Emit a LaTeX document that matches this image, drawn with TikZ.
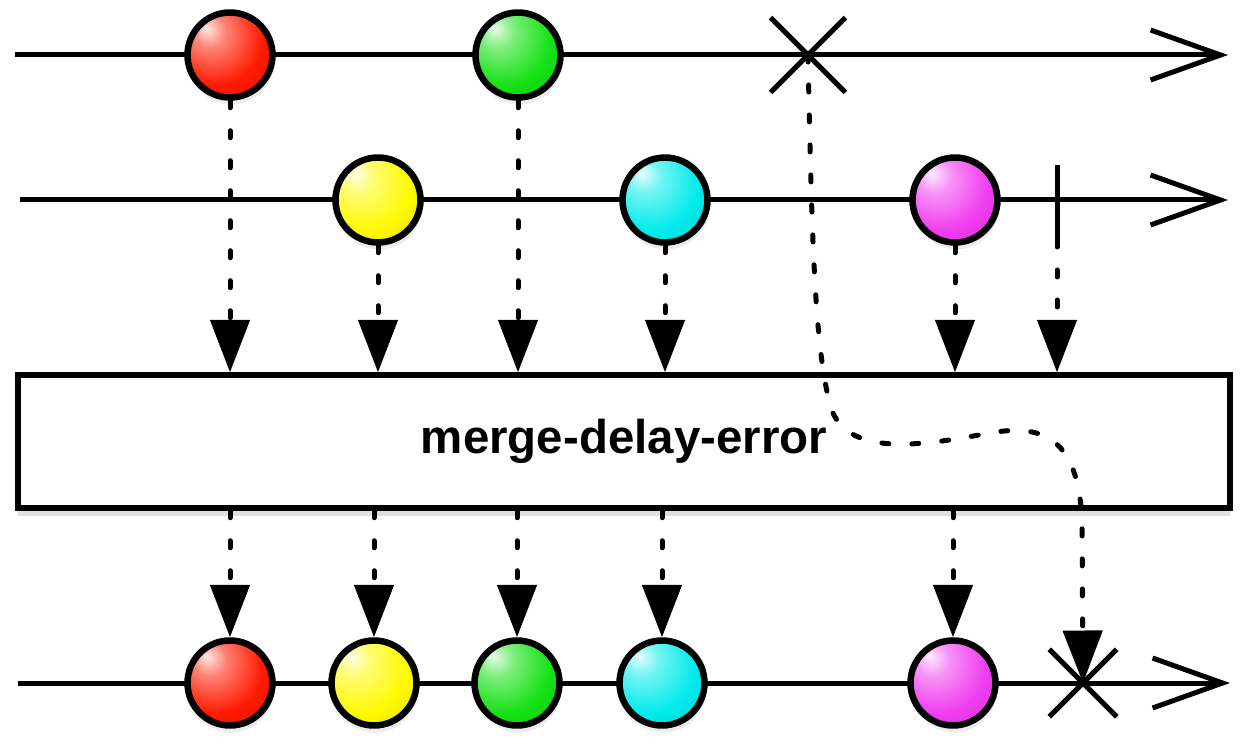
\documentclass[tikz,border=0pt]{standalone}
\usepackage{fontspec}
\setmainfont{Liberation Sans}
\usetikzlibrary{arrows.meta,shapes.misc,shadows}

\definecolor{mred}{RGB}{255,25,0}
\definecolor{mgreen}{RGB}{20,225,20}
\definecolor{myellow}{RGB}{255,250,0}
\definecolor{mcyan}{RGB}{0,235,235}
\definecolor{mmagenta}{RGB}{240,60,240}
\colorlet{marblec}{mred}
\pgfdeclareradialshading[marblec]{marble}{\pgfpoint{-14bp}{16bp}}{%
  color(0bp)=(marblec!10!white); color(10bp)=(marblec!55!white);
  color(28bp)=(marblec); color(52bp)=(marblec!82!black);
  color(72bp)=(marblec!55!black)}

\tikzset{
  timeline/.style={line width=0.1cm, -{Straight Barb[length=1.4cm,width=1cm]}},
  marble/.style={circle, draw, line width=0.13cm, minimum size=1.7cm, inner sep=0pt,
                 /utils/exec={\colorlet{marblec}{#1}}, shade, shading=marble,
                 drop shadow={opacity=0.15, shadow xshift=0.03cm, shadow yshift=-0.14cm}},
  errmark/.style={cross out, draw, line width=0.1cm, inner sep=0pt, minimum size=#1},
  flow/.style={line width=0.1cm, line cap=round, dash pattern=on 0.14cm off 0.46cm,
               -{Triangle[length=1.05cm,width=0.78cm]}},
  opbox/.style={draw, fill=white, line width=0.11cm, inner sep=0pt,
                minimum width=24.24cm, minimum height=2.66cm,
                font=\fontsize{27}{32}\selectfont\bfseries,
                drop shadow={opacity=0.25, shadow xshift=0cm, shadow yshift=-0.16cm}}
}

\begin{document}
\begin{tikzpicture}[x=0.02cm, y=-0.02cm]
  \useasboundingbox (0,0) rectangle (1248,753);

  % source 1
  \draw[timeline] (15,55) -- (1228,55);
  \node[marble=mred] (r1) at (230,55) {};
  \node[marble=mgreen] (g1) at (518,55) {};
  \node[errmark=1.4cm] (e1) at (808,55) {};

  % source 2
  \draw[timeline] (20,200) -- (1228,200);
  \node[marble=myellow] (y2) at (378,200) {};
  \node[marble=mcyan] (c2) at (665,200) {};
  \node[marble=mmagenta] (m2) at (955,200) {};
  \coordinate (d2top) at (1057,165);
  \coordinate (d2) at (1057,240);
  \draw[line width=0.1cm] (d2top) -- (d2);

  % operator
  \node[opbox] (op) at (624,441.5) {merge-delay-error};

  % result
  \draw[timeline] (18,683) -- (1230,683);
  \node[marble=mred] (r3) at (230,683) {};
  \node[marble=myellow] (y3) at (374,683) {};
  \node[marble=mgreen] (g3) at (517,683) {};
  \node[marble=mcyan] (c3) at (662,683) {};
  \node[marble=mmagenta] (m3) at (953,683) {};
  \node[errmark=1.25cm] (e3) at (1083,683) {};

  \draw[flow] (r1.south) -- (r1 |- op.north);
  \draw[flow] (y2.south) -- (y2 |- op.north);
  \draw[flow] (g1.south) -- (g1 |- op.north);
  \draw[flow] (c2.south) -- (c2 |- op.north);
  \draw[flow] (m2.south) -- (m2 |- op.north);
  \draw[flow] (d2) -- (d2 |- op.north);

  \draw[flow] (r3 |- op.south) -- (r3.north);
  \draw[flow] (y3 |- op.south) -- (y3.north);
  \draw[flow] (g3 |- op.south) -- (g3.north);
  \draw[flow] (c3 |- op.south) -- (c3.north);
  \draw[flow] (m3 |- op.south) -- (m3.north);

  \draw[flow] (e1.center) .. controls (812,250) and (815,345) .. (830,405)
              .. controls (845,458) and (920,446) .. (990,433)
              .. controls (1045,423) and (1078,440) .. (1082,520) -- (e3.center);
\end{tikzpicture}
\end{document}
